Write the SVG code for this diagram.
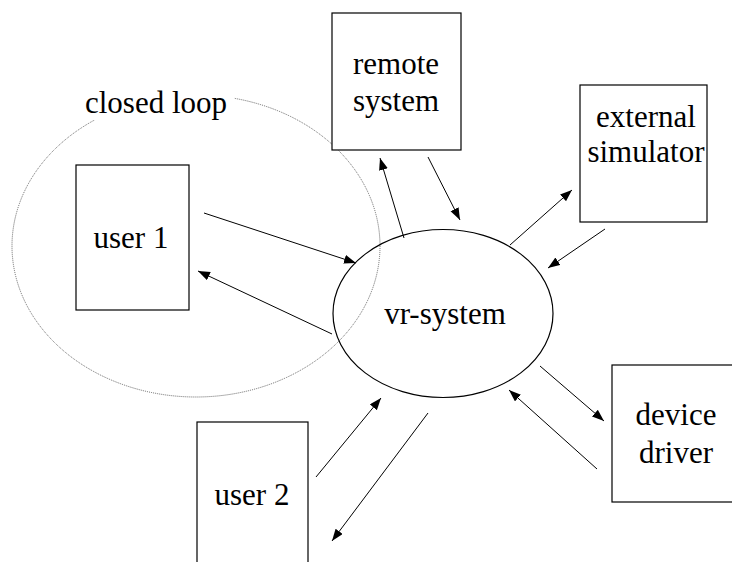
<svg xmlns="http://www.w3.org/2000/svg" width="732" height="562" viewBox="0 0 732 562">
<style>
.box{fill:#fff;stroke:#000;stroke-width:1.2}
.lbl{font-family:"Liberation Serif","Times New Roman",serif;font-size:31px;fill:#000;text-anchor:middle}
.conn{stroke:#000;stroke-width:1;fill:none;marker-end:url(#ah)}
</style>
<defs>
<marker id="ah" markerUnits="userSpaceOnUse" markerWidth="13" markerHeight="10" refX="12" refY="4.5" orient="auto">
<path d="M0,0 L12,4.5 L0,9 z" fill="#000"/>
</marker>
</defs>
<rect width="732" height="562" fill="#fff"/>
<g id="closed-loop">
<ellipse cx="196" cy="246" rx="184" ry="151" fill="none" stroke="#666" stroke-width="1" stroke-dasharray="1,1"/>
<rect x="82" y="88" width="152" height="32" fill="#fff"/>
<text x="85" y="113" class="lbl" style="text-anchor:start">closed loop</text>
</g>
<g id="user1">
<rect class="box" x="76" y="165" width="113" height="145"/>
<text class="lbl" x="131" y="248">user 1</text>
</g>
<g id="remote-system">
<rect class="box" x="332" y="13" width="129" height="137"/>
<text class="lbl" x="396" y="74">remote</text>
<text class="lbl" x="396" y="111">system</text>
</g>
<g id="external-simulator">
<rect class="box" x="580" y="85" width="127" height="137"/>
<text class="lbl" x="646" y="127">external</text>
<text class="lbl" x="646" y="162">simulator</text>
</g>
<g id="vr-system">
<ellipse cx="443" cy="313.5" rx="110" ry="84" fill="none" stroke="#000" stroke-width="1.2"/>
<text class="lbl" x="445" y="324">vr-system</text>
</g>
<g id="device-driver">
<rect class="box" x="612" y="365" width="128" height="137"/>
<text class="lbl" x="676" y="425">device</text>
<text class="lbl" x="676" y="463">driver</text>
</g>
<g id="user2">
<rect class="box" x="197" y="422" width="111" height="160"/>
<text class="lbl" x="252" y="505">user 2</text>
</g>
<g id="connectors">
<line class="conn" x1="204" y1="213" x2="356" y2="263"/>
<line class="conn" x1="332" y1="334" x2="198" y2="271"/>
<line class="conn" x1="404" y1="238" x2="380" y2="158"/>
<line class="conn" x1="428" y1="157" x2="460" y2="220"/>
<line class="conn" x1="510" y1="245" x2="572" y2="190"/>
<line class="conn" x1="605" y1="229" x2="548" y2="268"/>
<line class="conn" x1="540" y1="366" x2="604" y2="421"/>
<line class="conn" x1="597" y1="469" x2="509" y2="390"/>
<line class="conn" x1="316" y1="477" x2="381" y2="398"/>
<line class="conn" x1="428" y1="413" x2="332" y2="541"/>
</g>
</svg>
